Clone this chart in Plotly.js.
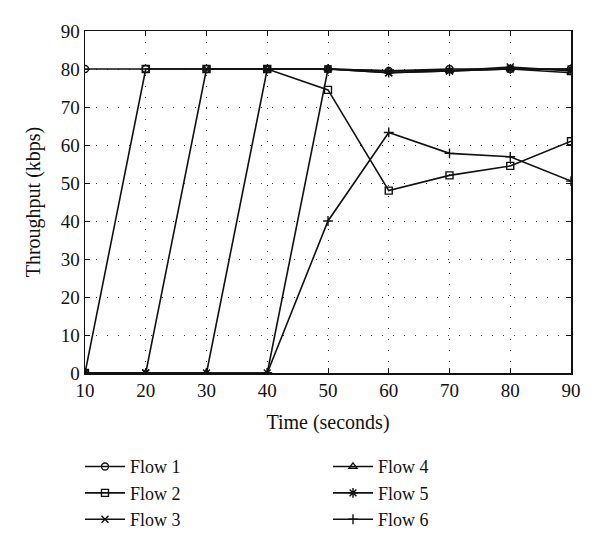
<!DOCTYPE html>
<html>
<head>
<meta charset="utf-8">
<script src="https://cdn.plot.ly/plotly-3.0.1.min.js"></script>
<style>html,body{margin:0;padding:0;background:#fff;}</style>
</head>
<body>
<div id="chart" style="width:600px;height:550px;"></div>
<script>
const time = [10, 20, 30, 40, 50, 60, 70, 80, 90];
const flow1 = [80, 80, 80, 80, 80, 79.5, 80, 80, 80];
const flow2 = [0, 80, 80, 80, 74.5, 48, 52, 54.5, 61];
const flow3 = [0, 0, 80, 80, 80, 79, 79.5, 80.5, 79.5];
const flow4 = [0, 0, 0, 80, 80, 79.5, 79.5, 80, 79];
const flow5 = [0, 0, 0, 0, 80, 79, 79.5, 80, 80];
const flow6 = [0, 0, 0, 0, 40, 63.3, 57.8, 56.9, 50.5];
const names = ["Flow 1", "Flow 2", "Flow 3", "Flow 4", "Flow 5", "Flow 6"];
const symbols = ["circle-open", "square-open", "x-thin-open", "triangle-up-open", "asterisk-open", "cross-thin-open"];
const series = [flow1, flow2, flow3, flow4, flow5, flow6];

const traces = series.map((ys, i) => ({
  x: time, y: ys, name: names[i], type: "scatter", mode: "lines+markers",
  line: {color: "#111", width: 1.6},
  marker: {symbol: symbols[i], size: i === 4 ? 8 : 7, color: "#111", line: {color: "#111", width: 1.4}},
  legend: i < 3 ? "legend" : "legend2"
}));

const font = {family: "Liberation Serif, Times New Roman, serif", color: "#111"};
const legendBase = {
  font: Object.assign({}, font, {size: 18}),
  bgcolor: "rgba(0,0,0,0)", orientation: "v", yanchor: "top", xanchor: "left",
  itemwidth: 40, tracegroupgap: 0
};

const layout = {
  width: 600, height: 550,
  margin: {l: 85, r: 29, t: 31, b: 173},
  paper_bgcolor: "#fff", plot_bgcolor: "#fff",
  font: font,
  xaxis: {
    range: [10, 90], tickvals: time, ticktext: time.map(String),
    showline: true, mirror: "ticks", linecolor: "#111", linewidth: 1.5,
    ticks: "inside", ticklen: 5, tickcolor: "#111",
    showgrid: true, gridcolor: "#333", gridwidth: 1, griddash: "1px,10px",
    zeroline: false, tickfont: Object.assign({}, font, {size: 19}),
    title: {text: "Time (seconds)", font: Object.assign({}, font, {size: 20}), standoff: 14}
  },
  yaxis: {
    range: [0, 90], tickvals: [0, 10, 20, 30, 40, 50, 60, 70, 80, 90],
    showline: true, mirror: "ticks", linecolor: "#111", linewidth: 1.5,
    ticks: "inside", ticklen: 5, tickcolor: "#111",
    showgrid: true, gridcolor: "#333", gridwidth: 1, griddash: "1px,10px",
    zeroline: false, tickfont: Object.assign({}, font, {size: 19}),
    title: {text: "Throughput (kbps)", font: Object.assign({}, font, {size: 20}), standoff: 14}
  },
  legend: Object.assign({}, legendBase, {x: -0.0103, y: -0.22}),
  legend2: Object.assign({}, legendBase, {x: 0.5, y: -0.22}),
  showlegend: true
};

Plotly.newPlot("chart", traces, layout, {displayModeBar: false, staticPlot: true});
</script>
</body>
</html>
